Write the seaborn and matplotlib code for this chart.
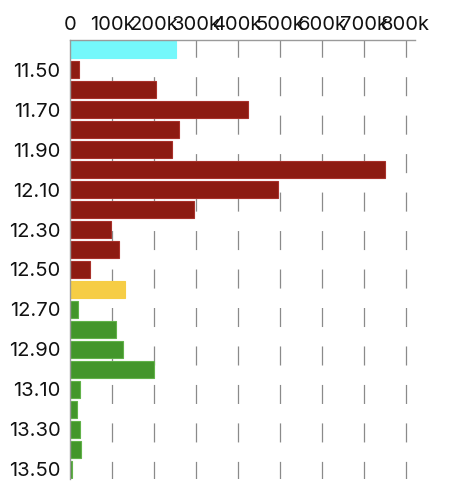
import numpy as np
import pandas as pd
import seaborn as sns
import matplotlib.pyplot as plt

# order book style depth chart, price levels on the y axis
prices = ["11.40", "11.50", "11.60", "11.70", "11.80", "11.90", "12.00", "12.10",
          "12.20", "12.30", "12.40", "12.50", "12.60", "12.70", "12.80", "12.90",
          "13.00", "13.10", "13.20", "13.30", "13.40", "13.50"]
volumes = [251000, 21000, 205000, 424000, 259000, 242000, 751000, 495000,
           295000, 96000, 115000, 47000, 130000, 18000, 109000, 125000,
           200000, 22000, 15000, 24000, 25000, 5000]
sides = ["high", "sell", "sell", "sell", "sell", "sell", "sell", "sell",
         "sell", "sell", "sell", "sell", "last", "buy", "buy", "buy",
         "buy", "buy", "buy", "buy", "buy", "buy"]
x_ticks = [0, 100000, 200000, 300000, 400000, 500000, 600000, 700000, 800000]
x_tick_labels = ["0", "100k", "200k", "300k", "400k", "500k", "600k", "700k", "800k"]

fill = {"high": "#74f8fb", "sell": "#8d1b12", "last": "#f6cd45", "buy": "#43962b"}
edge = {"high": "#74f8fb", "sell": "#a8312a", "last": "#f6cd45", "buy": "#62b24a"}

df = pd.DataFrame({"price": prices, "volume": volumes, "side": sides})

sns.set_style("white")
plt.rcParams["font.family"] = ["Inter", "DejaVu Sans"]
plt.rcParams["lines.scale_dashes"] = False

fig = plt.figure(figsize=(4.54, 5.0), dpi=100)
ax = fig.add_axes([0.155, 0.042, 0.759, 0.878])

sns.barplot(data=df, x="volume", y="price", hue="price",
            palette=[fill[s] for s in sides], saturation=1, orient="h",
            width=0.85, legend=False, ax=ax, zorder=3)
for patch, s in zip(ax.patches, sides):
    patch.set_edgecolor(edge[s])
    patch.set_linewidth(0.8)

# dashed grid lines, pattern starts at the top edge
for x in x_ticks[1:]:
    ax.axvline(x, ymin=1, ymax=0, color="#8a8a8a", linewidth=0.9,
               linestyle=(1.3, (13.7, 14.0)), zorder=1)

ax.set_xlim(0, 822000)
ax.set_ylim(len(prices) - 0.5, -0.5)

ax.xaxis.tick_top()
ax.set_xticks(x_ticks)
ax.set_xticklabels(x_tick_labels)
ax.set_yticks(range(1, len(prices), 2))
ax.set_yticklabels(prices[1::2])
ax.tick_params(axis="x", length=0, pad=4.5, labelsize=14.5, colors="#111111")
ax.tick_params(axis="y", length=0, pad=7, labelsize=14.5, colors="#111111")
ax.set_xlabel("")
ax.set_ylabel("")

for side in ["right", "bottom"]:
    ax.spines[side].set_visible(False)
for side in ["left", "top"]:
    ax.spines[side].set_color("#9a9a9a")
    ax.spines[side].set_linewidth(1.0)
    ax.spines[side].set_zorder(4)

plt.savefig("out.png", dpi=100)
